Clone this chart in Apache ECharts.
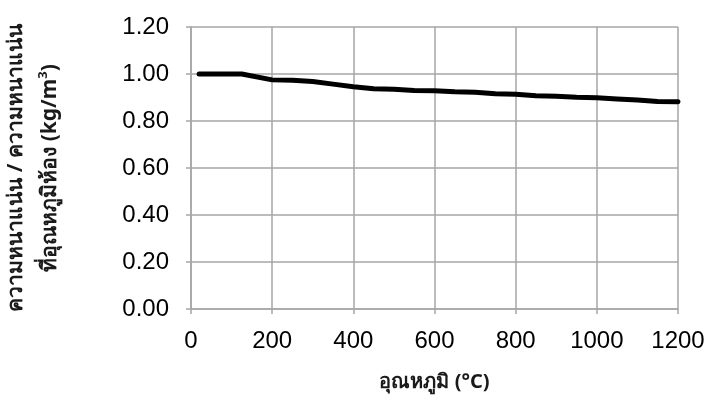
<!DOCTYPE html>
<html>
<head>
<meta charset="utf-8">
<script src="https://cdn.jsdelivr.net/npm/echarts@6/dist/echarts.min.js"></script>
<style>html,body{margin:0;padding:0;background:#fff}#c{width:711px;height:405px}</style>
</head>
<body>
<div id="c"></div>
<script>
const temperatures = [20,125,200,250,300,350,400,450,500,550,600,650,700,750,800,850,900,950,1000,1050,1100,1150,1200];
const densityRatio = [1.00,1.00,0.975,0.973,0.968,0.957,0.946,0.937,0.935,0.930,0.929,0.924,0.922,0.916,0.914,0.907,0.905,0.901,0.899,0.894,0.889,0.883,0.882];
const xTitle = 'อุณหภูมิ (°C)';
const yTitleLine1 = 'ความหนาแน่น / ความหนาแน่น';
const yTitleLine2 = 'ที่อุณหภูมิห้อง (kg/m';

const chart = echarts.init(document.getElementById('c'), null, {renderer: 'canvas'});
const gridColor = '#a6a6a6';
const labelFont = {fontFamily: 'Liberation Sans, Arial, sans-serif', fontSize: 24, color: '#000'};
chart.setOption({
  animation: false,
  backgroundColor: '#fff',
  grid: {left: 191, right: 33, top: 27, bottom: 96, containLabel: false, outerBoundsMode: 'none'},
  xAxis: {
    type: 'value', min: 0, max: 1200, interval: 200,
    name: xTitle, nameLocation: 'middle', nameGap: 63,
    nameTextStyle: {fontFamily: 'Noto Sans, sans-serif', fontSize: 20, fontWeight: 'bold', color: '#1a1a1a'},
    axisLine: {show: true, lineStyle: {color: gridColor, width: 1.5}},
    axisTick: {show: true, length: 5, lineStyle: {color: gridColor, width: 1.5}},
    splitLine: {show: true, lineStyle: {color: gridColor, width: 1.5}},
    axisLabel: Object.assign({margin: 20, formatter: v => String(v)}, labelFont)
  },
  yAxis: {
    type: 'value', min: 0, max: 1.2, interval: 0.2,
    name: '{t|' + yTitleLine1 + '}\n{t|' + yTitleLine2 + '}{s|3}{t|)}',
    nameLocation: 'middle', nameRotate: 90, nameGap: 124,
    nameTextStyle: {
      rich: {
        t: {fontFamily: 'Noto Sans, sans-serif', fontSize: 21, fontWeight: 'bold', color: '#1a1a1a', lineHeight: 34},
        s: {fontFamily: 'Noto Sans, sans-serif', fontSize: 13, fontWeight: 'bold', color: '#1a1a1a', padding: [0,0,14,0]}
      }
    },
    axisLine: {show: true, lineStyle: {color: gridColor, width: 1.5}},
    axisTick: {show: true, length: 5, lineStyle: {color: gridColor, width: 1.5}},
    splitLine: {show: true, lineStyle: {color: gridColor, width: 1.5}},
    axisLabel: Object.assign({margin: 22, formatter: v => v.toFixed(2)}, labelFont)
  },
  series: [{
    type: 'line',
    data: temperatures.map((t, i) => [t, densityRatio[i]]),
    showSymbol: false,
    lineStyle: {color: '#000', width: 5, cap: 'round', join: 'round'},
    z: 5
  }]
});
</script>
</body>
</html>
